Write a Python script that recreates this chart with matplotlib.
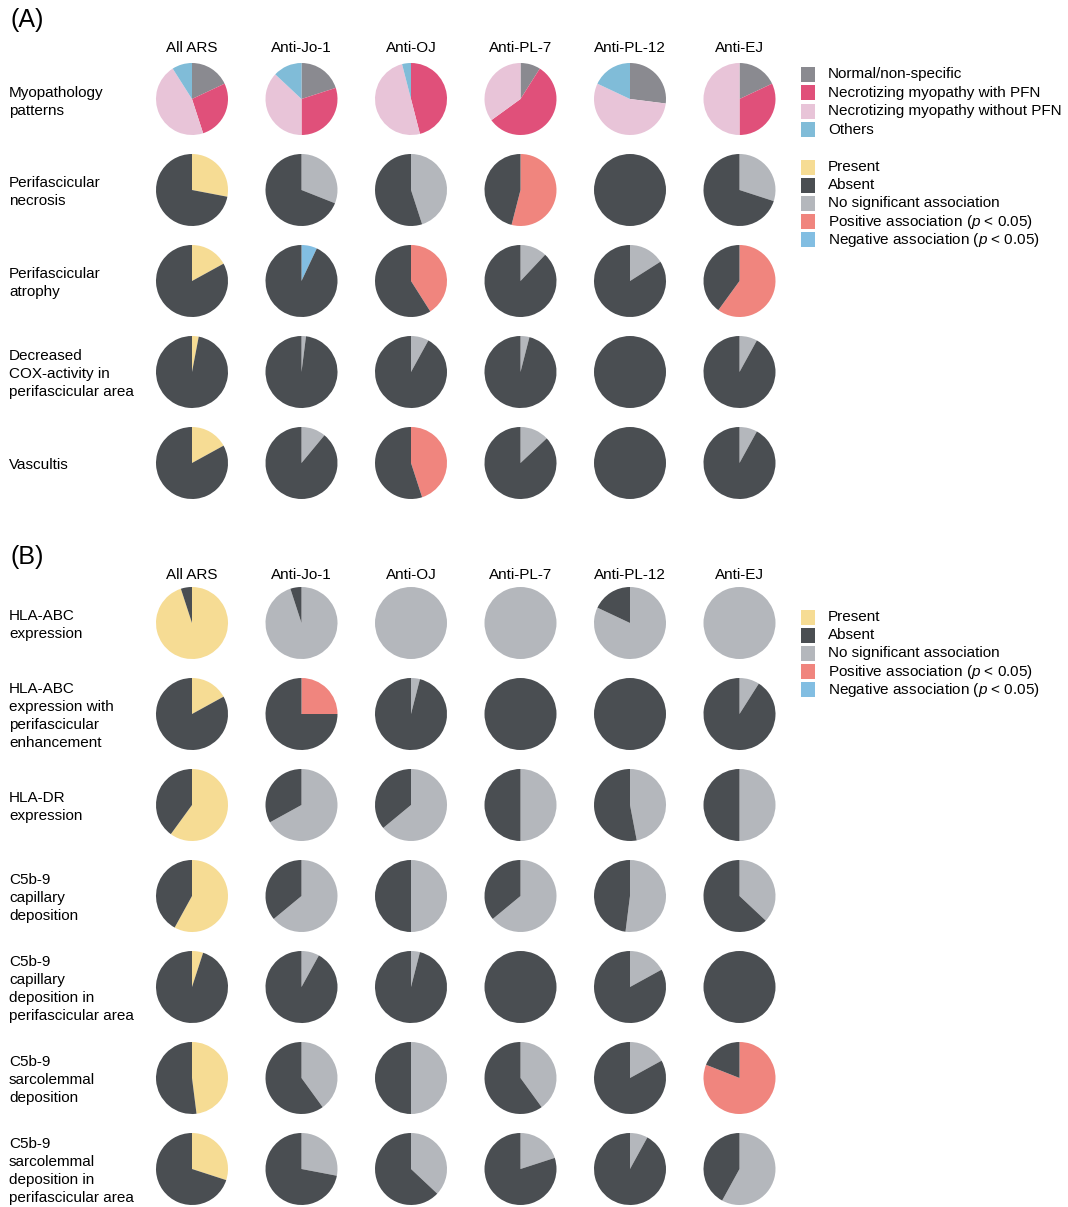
import matplotlib
matplotlib.use("Agg")
import matplotlib.pyplot as plt
from matplotlib.patches import Rectangle

plt.rcParams["font.family"] = ["Liberation Sans", "DejaVu Sans"]
plt.rcParams["mathtext.fontset"] = "custom"
plt.rcParams["mathtext.it"] = "Liberation Sans:italic"
plt.rcParams["mathtext.rm"] = "Liberation Sans"

# ── data ─────────────────────────────────────────────────────────────
groups = ["All ARS", "Anti-Jo-1", "Anti-OJ", "Anti-PL-7", "Anti-PL-12", "Anti-EJ"]

# myopathology patterns (% of patients)
normal  = [18, 20, 0, 9, 27, 18]
nm_pfn  = [27, 30, 46, 56, 0, 32]
nm_none = [46, 37, 50, 35, 55, 50]
others  = [9, 13, 4, 0, 18, 0]

# binary findings: share of first slice, kind of first slice
# P = present, N = no significant association, + = positive, - = negative
rows_a = ["Perifascicular\nnecrosis", "Perifascicular\natrophy",
          "Decreased\nCOX-activity in\nperifascicular area", "Vascultis"]
vals_a = [[28, 31, 45, 54, 0, 30],
          [17, 7, 41, 12, 16, 60],
          [3, 2, 8, 4, 0, 8],
          [17, 11, 45, 13, 0, 8]]
kind_a = [["P", "N", "N", "+", "N", "N"],
          ["P", "-", "+", "N", "N", "+"],
          ["P", "N", "N", "N", "N", "N"],
          ["P", "N", "+", "N", "N", "N"]]

rows_b = ["HLA-ABC\nexpression",
          "HLA-ABC\nexpression with\nperifascicular\nenhancement",
          "HLA-DR\nexpression",
          "C5b-9\ncapillary\ndeposition",
          "C5b-9\ncapillary\ndeposition in\nperifascicular area",
          "C5b-9\nsarcolemmal\ndeposition",
          "C5b-9\nsarcolemmal\ndeposition in\nperifascicular area"]
vals_b = [[95, 95, 100, 100, 82, 100],
          [17, 25, 4, 0, 0, 9],
          [60, 67, 64, 50, 47, 50],
          [58, 64, 50, 64, 52, 37],
          [5, 8, 4, 0, 17, 0],
          [48, 40, 50, 40, 17, 81],
          [30, 28, 37, 20, 8, 58]]
kind_b = [["P", "N", "N", "N", "N", "N"],
          ["P", "+", "N", "N", "N", "N"],
          ["P", "N", "N", "N", "N", "N"],
          ["P", "N", "N", "N", "N", "N"],
          ["P", "N", "N", "N", "N", "N"],
          ["P", "N", "N", "N", "N", "+"],
          ["P", "N", "N", "N", "N", "N"]]

myo_labels = ["Normal/non-specific", "Necrotizing myopathy with PFN",
              "Necrotizing myopathy without PFN", "Others"]
myo_colors = ["#8a8a90", "#e0507a", "#e8c4d8", "#80bcd8"]

key_labels = ["Present", "Absent", "No significant association",
              "Positive association ($\\it{p}$ < 0.05)",
              "Negative association ($\\it{p}$ < 0.05)"]
kind_colors = {"P": "#f6dc94", "A": "#4a4e52", "N": "#b4b7bc",
               "+": "#f0857e", "-": "#82bee2"}
key_colors = [kind_colors[k] for k in ["P", "A", "N", "+", "-"]]

# ── layout (pixel coords, y measured from top) ───────────────────────
W, H = 1068, 1207
col_x = [192, 301.5, 411, 520.5, 630, 739.5]
rows_y_a = [99, 190, 281, 372, 463]
rows_y_b = [623, 714, 805, 896, 987, 1078, 1169]
R = 36
FS = 11
LS = 1.37

fig = plt.figure(figsize=(W / 100, H / 100), dpi=100)
ax = fig.add_axes([0, 0, 1, 1])


def Y(y):
    return H - y


def pie(vals, colors, cx, cy):
    ax.pie(vals, colors=colors, startangle=90, counterclock=False,
           center=(cx, Y(cy)), radius=R, frame=True,
           wedgeprops=dict(linewidth=0))


def binary_pie(v, k, cx, cy):
    pie([v, 100 - v], [kind_colors[k], kind_colors["A"]], cx, cy)


def legend(labels, colors, x, y0, dy):
    for i, (lab, c) in enumerate(zip(labels, colors)):
        y = y0 + i * dy
        ax.add_patch(Rectangle((x, Y(y) - 7.5), 14, 15, color=c, lw=0))
        ax.text(x + 27, Y(y), lab, fontsize=FS, ha="left", va="center")


# ── panel A ──────────────────────────────────────────────────────────
ax.text(10, Y(20), "(A)", fontsize=18, ha="left", va="center")
for cx, g in zip(col_x, groups):
    ax.text(cx, Y(48), g, fontsize=FS, ha="center", va="center")

ax.text(9, Y(rows_y_a[0] + 3), "Myopathology\npatterns", fontsize=FS,
        ha="left", va="center", linespacing=LS)
for j, cx in enumerate(col_x):
    pie([normal[j], nm_pfn[j], nm_none[j], others[j]], myo_colors,
        cx, rows_y_a[0])

for i, (lab, cy) in enumerate(zip(rows_a, rows_y_a[1:])):
    ax.text(9, Y(cy + 2), lab, fontsize=FS, ha="left", va="center",
            linespacing=LS)
    for j, cx in enumerate(col_x):
        binary_pie(vals_a[i][j], kind_a[i][j], cx, cy)

legend(myo_labels, myo_colors, 801, 74, 18.6)
legend(key_labels, key_colors, 801, 167, 18.2)

# ── panel B ──────────────────────────────────────────────────────────
ax.text(10, Y(557), "(B)", fontsize=18, ha="left", va="center")
for cx, g in zip(col_x, groups):
    ax.text(cx, Y(575), g, fontsize=FS, ha="center", va="center")

for i, (lab, cy) in enumerate(zip(rows_b, rows_y_b)):
    ax.text(9, Y(cy + 2), lab, fontsize=FS, ha="left", va="center",
            linespacing=LS)
    for j, cx in enumerate(col_x):
        binary_pie(vals_b[i][j], kind_b[i][j], cx, cy)

legend(key_labels, key_colors, 801, 617, 18.2)

ax.set_xlim(0, W)
ax.set_ylim(0, H)
ax.set_aspect("equal")
ax.axis("off")

fig.savefig("out.png", dpi=100, facecolor="white")
